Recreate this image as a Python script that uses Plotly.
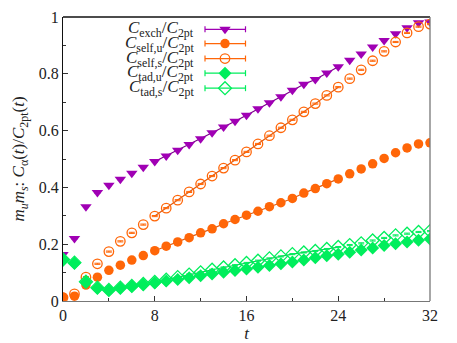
import plotly.graph_objects as go

# ---------------- data ----------------
t = list(range(33))

exch = [0.164, 0.220, 0.332, 0.382, 0.408, 0.429, 0.450, 0.471, 0.491, 0.511,
        0.531, 0.551, 0.571, 0.592, 0.613, 0.633, 0.654, 0.677, 0.698, 0.719,
        0.742, 0.763, 0.780, 0.803, 0.825, 0.848, 0.870, 0.894, 0.917, 0.941,
        0.962, 0.980, 0.982]

self_u = [0.013, 0.017, 0.056, 0.084, 0.108, 0.126, 0.144, 0.160, 0.177, 0.193,
          0.208, 0.223, 0.240, 0.254, 0.272, 0.287, 0.302, 0.316, 0.332, 0.346,
          0.361, 0.380, 0.396, 0.413, 0.430, 0.448, 0.465, 0.483, 0.502, 0.522,
          0.539, 0.553, 0.557]

self_s = [0.012, 0.025, 0.084, 0.131, 0.174, 0.210, 0.240, 0.269, 0.299, 0.327,
          0.355, 0.384, 0.412, 0.440, 0.468, 0.496, 0.525, 0.553, 0.582, 0.610,
          0.638, 0.666, 0.695, 0.724, 0.753, 0.783, 0.814, 0.846, 0.879, 0.912,
          0.944, 0.966, 0.975]

tad_u = [0.146, 0.134, 0.066, 0.046, 0.038, 0.046, 0.052, 0.058, 0.064, 0.070,
         0.076, 0.082, 0.089, 0.095, 0.101, 0.107, 0.113, 0.119, 0.125, 0.131,
         0.137, 0.144, 0.152, 0.159, 0.165, 0.172, 0.180, 0.187, 0.195, 0.202,
         0.208, 0.214, 0.218]

tad_s = [0.146, 0.135, 0.068, 0.047, 0.039, 0.047, 0.053, 0.060, 0.067, 0.075,
         0.084, 0.093, 0.101, 0.110, 0.118, 0.126, 0.134, 0.142, 0.150, 0.157,
         0.165, 0.171, 0.176, 0.183, 0.190, 0.197, 0.203, 0.213, 0.222, 0.231,
         0.237, 0.243, 0.246]

# small statistical errors (estimated, barely visible)
err = [0.002] * 33

fit_range = (8, 24)

labels = [
    "<i>C</i><sub>exch</sub>/<i>C</i><sub>2pt</sub>",
    "<i>C</i><sub>self,u</sub>/<i>C</i><sub>2pt</sub>",
    "<i>C</i><sub>self,s</sub>/<i>C</i><sub>2pt</sub>",
    "<i>C</i><sub>tad,u</sub>/<i>C</i><sub>2pt</sub>",
    "<i>C</i><sub>tad,s</sub>/<i>C</i><sub>2pt</sub>",
]

x_ticks = [0, 8, 16, 24, 32]
y_ticks = [0, 0.2, 0.4, 0.6, 0.8, 1]
y_tick_text = ["0", "0.2", "0.4", "0.6", "0.8", "1"]

# ---------------- styles ----------------
PURPLE = "#a000b4"
ORANGE = "#ff6608"
GREEN = "#00ee5c"
series = [
    (exch, PURPLE, "#7a0088", "triangle-down", 10),
    (self_u, ORANGE, "#e05a10", "circle", 9.5),
    (self_s, ORANGE, "#e05a10", "circle-open", 9.5),
    (tad_u, GREEN, "#10c850", "diamond", 10),
    (tad_s, GREEN, "#10c850", "diamond-open", 10),
]
FONT = "Times New Roman, Tinos, Liberation Serif, DejaVu Serif, serif"

fig = go.Figure()

# fit lines over the fit window
for ys, col, lcol, sym, sz in series:
    xs = [ti for ti in t if fit_range[0] <= ti <= fit_range[1]]
    yv = [ys[ti] for ti in xs]
    fig.add_trace(go.Scatter(x=xs, y=yv, mode="lines",
                             line=dict(color=lcol, width=1.2),
                             showlegend=False, hoverinfo="skip"))

# data points
for ys, col, lcol, sym, sz in series:
    fig.add_trace(go.Scatter(
        x=t, y=ys, mode="markers",
        marker=dict(symbol=sym, size=sz, color=col,
                    line=dict(color=col, width=1.3 if "open" in sym else 0)),
        error_y=dict(type="data", array=err, color=col, thickness=1, width=3),
        showlegend=False))

# ---------------- custom legend (overlay axes in pixel coordinates) ----------------
leg_rows = [29.3, 43.6, 58.6, 73.3, 88.3]
leg_x0, leg_x1, leg_xm, leg_txt = 205, 245.5, 225, 196
shapes = []
for (ys, col, lcol, sym, sz), yr, lab in zip(series, leg_rows, labels):
    shapes.append(dict(type="line", xref="x2", yref="y2", x0=leg_x0, x1=leg_x1,
                       y0=yr, y1=yr, line=dict(color=col, width=1.2)))
    for xe in (leg_x0, leg_x1):
        shapes.append(dict(type="line", xref="x2", yref="y2", x0=xe, x1=xe,
                           y0=yr - 3, y1=yr + 3, line=dict(color=col, width=1.2)))
    fig.add_trace(go.Scatter(
        x=[leg_xm], y=[yr], xaxis="x2", yaxis="y2", mode="markers",
        marker=dict(symbol=sym, size=sz, color=col,
                    line=dict(color=col, width=1.3 if "open" in sym else 0)),
        showlegend=False, hoverinfo="skip"))
    fig.add_annotation(x=leg_txt, y=yr, xref="x2", yref="y2", text=lab,
                       showarrow=False, xanchor="right", yanchor="middle",
                       font=dict(family=FONT, size=17, color="#222"))

# frame lines top (black) and right (gray)
shapes.append(dict(type="line", xref="paper", yref="paper", x0=0, x1=1, y0=1, y1=1,
                   line=dict(color="#111", width=1.3)))
shapes.append(dict(type="line", xref="paper", yref="paper", x0=1, x1=1, y0=0, y1=1,
                   line=dict(color="#777", width=1.3)))

# the page places the figure 8px in from the top-left corner
fig.update_layout(
    width=457, height=343,
    margin=dict(l=55, r=35, t=9, b=49.5, autoexpand=False),
    paper_bgcolor="white", plot_bgcolor="white",
    font=dict(family=FONT, size=16, color="#222"),
    shapes=shapes,
    xaxis=dict(range=[0, 32], tickvals=x_ticks, ticks="inside", ticklen=5,
               tickcolor="#333", showgrid=False, zeroline=False, automargin=False,
               showline=True, linecolor="#777", linewidth=1.3,
               minor=dict(dtick=4, tick0=0, ticks="inside", ticklen=3, tickcolor="#333"),
               title=dict(text="<i>t</i>", standoff=0, font=dict(size=17)),
               tickfont=dict(size=16)),
    yaxis=dict(range=[0, 1], tickvals=y_ticks, ticktext=y_tick_text,
               ticks="inside", ticklen=5, tickcolor="#333",
               showgrid=False, zeroline=False, automargin=False,
               showline=True, linecolor="#111", linewidth=1.3,
               minor=dict(dtick=0.1, tick0=0, ticks="inside", ticklen=3, tickcolor="#333"),
               title=dict(text="<i>m</i><sub><i>u</i></sub><i>m</i><sub><i>s</i></sub>: "
                               "<i>C</i><sub>α</sub>(<i>t</i>)/<i>C</i><sub>2pt</sub>(<i>t</i>)",
                          standoff=9, font=dict(size=17)),
               tickfont=dict(size=16)),
    xaxis2=dict(range=[63, 430], overlaying="x", visible=False, domain=[0, 1]),
    yaxis2=dict(range=[301.5, 17], overlaying="y", visible=False, domain=[0, 1]),
)

fig.write_html("out.html")
